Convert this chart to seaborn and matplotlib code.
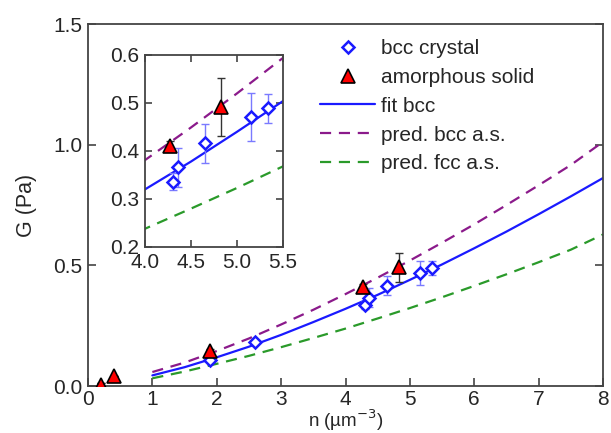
import numpy as np
import pandas as pd
import seaborn as sns
import matplotlib.pyplot as plt

# measured points
bcc_n = [1.9, 2.6, 4.30, 4.36, 4.65, 5.15, 5.34]
bcc_G = [0.108, 0.181, 0.336, 0.366, 0.416, 0.470, 0.489]
bcc_err = [0.0, 0.0, 0.018, 0.04, 0.04, 0.05, 0.03]

as_n = [0.2, 0.4, 1.9, 4.27, 4.83]
as_G = [0.012, 0.04, 0.145, 0.411, 0.492]
as_err = [0.0, 0.0, 0.01, 0.01, 0.06]

# curves
curve_n = [1.0, 1.5, 2.0, 2.5, 3.0, 3.5, 4.0, 4.5, 5.0, 5.5, 6.0, 6.5, 7.0, 7.5, 8.0]
fit_bcc = [0.044, 0.078, 0.119, 0.163, 0.212, 0.265, 0.320, 0.378, 0.440,
           0.504, 0.571, 0.640, 0.712, 0.786, 0.862]
pred_bcc = [0.058, 0.097, 0.145, 0.197, 0.255, 0.316, 0.381, 0.449, 0.520,
            0.594, 0.670, 0.750, 0.832, 0.916, 1.012]
pred_fcc = [0.032, 0.060, 0.092, 0.125, 0.161, 0.199, 0.238, 0.280, 0.323,
            0.368, 0.415, 0.463, 0.513, 0.565, 0.628]

main_xticks = [0, 1, 2, 3, 4, 5, 6, 7, 8]
main_yticks = [0.0, 0.5, 1.0, 1.5]
inset_xticks = [4.0, 4.5, 5.0, 5.5]
inset_yticks = [0.2, 0.3, 0.4, 0.5, 0.6]

sns.set_style("ticks")
plt.rcParams['font.family'] = ['Liberation Sans', 'DejaVu Sans']

BLUE = "#1a1aff"
PURPLE = "#8b1a8b"
GREEN = "#2a9a2a"
RED = "#ff0000"

fig = plt.figure(figsize=(6.11, 4.33), dpi=100)
ax = fig.add_axes([0.144, 0.1085, 0.843, 0.836])
ins = fig.add_axes([0.2373, 0.4296, 0.2259, 0.4434])

curves = pd.DataFrame({"n": curve_n, "fit": fit_bcc, "pbcc": pred_bcc, "pfcc": pred_fcc})


def draw(a, legend=False):
    sns.lineplot(data=curves, x="n", y="fit", ax=a, color=BLUE, lw=1.6,
                 label="fit bcc" if legend else None)
    sns.lineplot(data=curves, x="n", y="pbcc", ax=a, color=PURPLE, lw=1.6,
                 dashes=(5, 3.5), label="pred. bcc a.s." if legend else None)
    sns.lineplot(data=curves, x="n", y="pfcc", ax=a, color=GREEN, lw=1.6,
                 dashes=(5, 3.5), label="pred. fcc a.s." if legend else None)
    a.errorbar(bcc_n, bcc_G, yerr=bcc_err, fmt="none", ecolor="#7a7aff",
               elinewidth=1, capsize=3, zorder=3)
    a.errorbar(as_n, as_G, yerr=as_err, fmt="none", ecolor="#333333",
               elinewidth=1, capsize=3, zorder=3)
    a.plot(bcc_n, bcc_G, ls="none", marker="D", ms=6.2, mfc="white",
           mec=BLUE, mew=1.8, zorder=4, label="bcc crystal" if legend else None)
    # the lowest-density point is drawn smaller in the original
    a.plot(as_n[:1], as_G[:1], ls="none", marker="^", ms=6.5,
           mfc=RED, mec="black", mew=1.2, zorder=5)
    a.plot(as_n[1:], as_G[1:], ls="none", marker="^", ms=9.5, mfc=RED,
           mec="black", mew=1.2, zorder=5,
           label="amorphous solid" if legend else None)


draw(ax, legend=True)
draw(ins)

for a in (ax, ins):
    for s in a.spines.values():
        s.set_visible(True)
        s.set_color("#444444")
        s.set_linewidth(1.3)
    a.set_xlabel("")
    a.set_ylabel("")

ax.set_xlim(0, 8)
ax.set_ylim(0, 1.5)
ax.set_xticks(main_xticks)
ax.set_yticks(main_yticks)
ax.set_yticklabels([f"{v:.1f}" for v in main_yticks])
ax.tick_params(direction="in", length=6, width=1.2, color="#444444",
               labelsize=15, right=True, top=False, pad=4)
ax.tick_params(axis="x", pad=3)
ax.set_xlabel("n (µm$^{-3}$)", fontsize=13.5, labelpad=-1)
ax.set_ylabel("G (Pa)", fontsize=15.5, labelpad=12)

ins.set_xlim(4.0, 5.5)
ins.set_ylim(0.2, 0.6)
ins.set_xticks(inset_xticks)
ins.set_yticks(inset_yticks)
ins.set_xticklabels([f"{v:.1f}" for v in inset_xticks])
ins.set_yticklabels([f"{v:.1f}" for v in inset_yticks])
ins.tick_params(direction="in", length=5, width=1.2, color="#444444",
                labelsize=15, right=True, top=True, pad=4)

h, l = ax.get_legend_handles_labels()
order = [l.index(k) for k in ["bcc crystal", "amorphous solid", "fit bcc",
                              "pred. bcc a.s.", "pred. fcc a.s."]]
ax.legend([h[i] for i in order], [l[i] for i in order], loc="upper left",
          bbox_to_anchor=(0.415, 1.01), frameon=False, fontsize=15,
          handlelength=2.6, handletextpad=0.3, labelspacing=0.47,
          numpoints=1, markerscale=1.0)

fig.savefig("out.png", dpi=100)
